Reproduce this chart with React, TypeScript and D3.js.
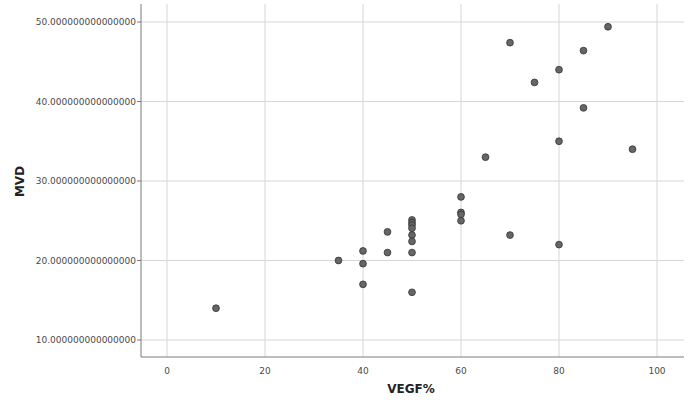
import * as d3 from "d3";

// VEGF% (x) and MVD (y), one entry per case
const vegf = [10, 35, 40, 40, 40, 45, 45, 50, 50, 50, 50, 50, 50, 50, 50, 60, 60, 60, 60, 65, 70, 70, 75, 80, 80, 80, 85, 85, 90, 95];
const mvd = [14.0, 20.0, 21.2, 19.6, 17.0, 23.6, 21.0, 25.1, 24.75, 24.45, 24.05, 23.2, 22.4, 21.0, 16.0, 28.0, 26.05, 25.8, 25.0, 33.0, 47.4, 23.2, 42.4, 44.0, 35.0, 22.0, 46.4, 39.2, 49.4, 34.0];

const xTicks = [0, 20, 40, 60, 80, 100];
const yTicks = [10, 20, 30, 40, 50];

export default function App() {
  const width = 692;
  const height = 407;
  const left = 141, right = 684, top = 4, bottom = 357;

  const x = d3.scaleLinear([0, 100], [167, 657]);
  const y = d3.scaleLinear([10, 50], [340, 22]);

  const points = vegf.map((v, i) => ({ v, m: mvd[i] }));

  return (
    <svg width={width} height={height} style={{ position: "absolute", left: 0, top: 0, fontFamily: "'DejaVu Sans', sans-serif" }}>
      <rect width={width} height={height} fill="#fff" />
      {/* grid */}
      <g stroke="#d6d6d6" strokeWidth={1}>
        {xTicks.map(t => <line key={"gx" + t} x1={x(t)} x2={x(t)} y1={top} y2={bottom} />)}
        {yTicks.map(t => <line key={"gy" + t} x1={left} x2={right} y1={y(t)} y2={y(t)} />)}
      </g>
      {/* axes */}
      <g stroke="#7a7a7a" strokeWidth={1}>
        <line x1={left} x2={left} y1={top} y2={bottom} />
        <line x1={left} x2={right} y1={bottom} y2={bottom} />
        {yTicks.map(t => <line key={"ty" + t} x1={left - 4} x2={left} y1={y(t)} y2={y(t)} />)}
      </g>
      <g fontSize={9} fill="#4a4a4a">
        {yTicks.map(t => (
          <text key={"ly" + t} x={left - 5} y={y(t)} dy="0.35em" textAnchor="end">{t.toFixed(15)}</text>
        ))}
        {xTicks.map(t => (
          <text key={"lx" + t} x={x(t)} y={bottom + 14} dy="0.35em" textAnchor="middle">{t}</text>
        ))}
      </g>
      <text x={x(50) - 1} y={393} textAnchor="middle" fontSize={12} fontWeight="bold" fill="#222">VEGF%</text>
      <text transform={`translate(24,${(top + bottom) / 2 + 1}) rotate(-90)`} textAnchor="middle" fontSize={12} fontWeight="bold" fill="#222">MVD</text>
      <g fill="#666" stroke="#333" strokeWidth={0.8}>
        {points.map((p, i) => <circle key={i} cx={x(p.v)} cy={y(p.m)} r={3.4} />)}
      </g>
    </svg>
  );
}
